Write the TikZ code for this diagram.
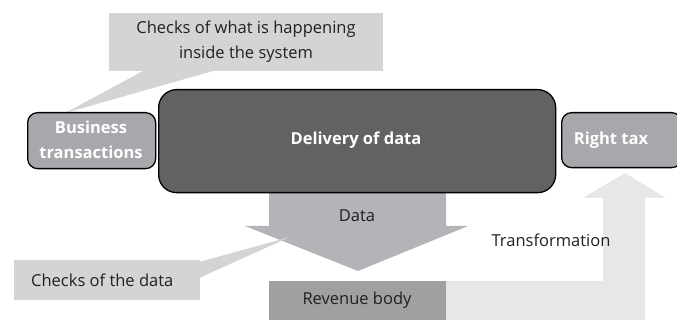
\documentclass[tikz,border=0pt]{standalone}
\usepackage{fontspec}
\setmainfont{Open Sans}
\definecolor{callgray}{HTML}{D4D4D6}
\definecolor{datagray}{HTML}{B3B4B7}
\definecolor{revgray}{HTML}{A0A0A3}
\definecolor{lightarrow}{HTML}{E6E7E8}
\definecolor{boxgray}{HTML}{A7A8AB}
\definecolor{darkbox}{HTML}{626264}
\definecolor{txt}{HTML}{231F20}
\begin{document}
\begin{tikzpicture}[x=1pt,y=-1pt,
  callout/.style={fill=callgray,draw=none,inner sep=0pt},
  sidebox/.style={fill=boxgray,draw=black,line width=1.3pt,rounded corners=10pt,inner sep=0pt},
  plain/.style={text=txt,font=\fontsize{16.5}{25}\selectfont,inner sep=0pt,align=center},
  whitetxt/.style={text=white,font=\fontsize{16.5}{25}\selectfont\bfseries,inner sep=0pt,align=center}]
\useasboundingbox (0,0) rectangle (677,320);
% light L-shaped arrow
\fill[lightarrow] (446,281) -- (603,281) -- (603,198) -- (583,198) -- (625,173) -- (666,198) -- (645,198) -- (645,320) -- (446,320) -- cycle;
% data arrow
\fill[datagray] (269,185) -- (446,185) -- (446,226) -- (468,226) -- (358,271) -- (245,226) -- (269,226) -- cycle;
% revenue body
\node[fill=revgray,minimum width=177pt,minimum height=39pt,inner sep=0pt,anchor=north west] (rev) at (269,281) {};
\node[plain] (revt) at (357,300) {Revenue body};
% callout top
\fill[callgray] (143,71) -- (213,71) -- (65,113) -- cycle;
\node[callout,minimum width=274pt,minimum height=58pt,anchor=north west] (cw) at (109,13) {};
\node[plain] (cwt) at (246,42) {Checks of what is happening\\inside the system};
% boxes
\node[sidebox,minimum width=128pt,minimum height=56pt,anchor=north west] (bt) at (27,112) {};
\node[whitetxt] (btt) at (91,140) {Business\\transactions};
\node[fill=darkbox,draw=black,line width=1.3pt,rounded corners=18pt,minimum width=397pt,minimum height=103pt,anchor=north west,inner sep=0pt] (del) at (158,89) {};
\node[whitetxt] (delt) at (356,140) {Delivery of data};
\node[sidebox,minimum width=120pt,minimum height=55pt,anchor=north west] (rt) at (561,112) {};
\node[whitetxt] (rtt) at (611,140) {Right tax};
% labels
\node[plain] (dt) at (357,216) {Data};
\node[plain] (tr) at (551,240) {Transformation};
% callout bottom
\fill[callgray] (199,262) -- (290,237) -- (199,278) -- cycle;
\node[callout,minimum width=186pt,minimum height=40pt,anchor=north west] (cd) at (14,260) {};
\node[plain,anchor=west] (cdt) at (31,280) {Checks of the data};
\end{tikzpicture}
\end{document}
